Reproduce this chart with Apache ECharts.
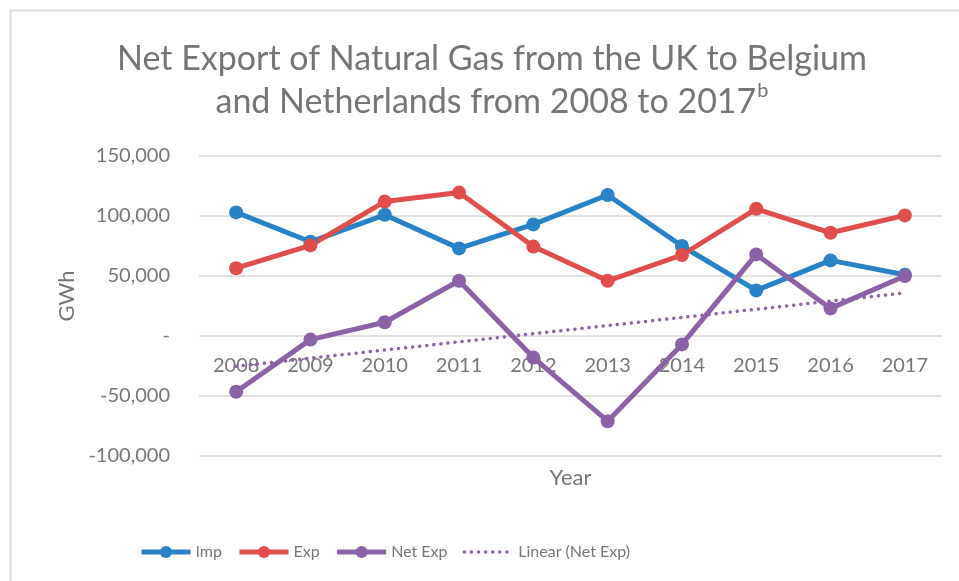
<!DOCTYPE html>
<html>
<head>
<meta charset="utf-8">
<script src="https://cdn.jsdelivr.net/npm/echarts@6/dist/echarts.min.js"></script>
<style>
  html, body { margin: 0; padding: 0; background: #fff; }
  #chart { width: 959px; height: 581px; }
</style>
</head>
<body>
<div id="chart"></div>
<script>
// values (GWh)
const years = ['2008', '2009', '2010', '2011', '2012', '2013', '2014', '2015', '2016', '2017'];
const imp = [103000, 78500, 101000, 73000, 93000, 117500, 75000, 38000, 63000, 51000];
const exp = [56500, 75500, 112000, 119500, 74500, 46000, 67500, 106000, 86000, 100500];
const netExp = [-46500, -3000, 11500, 46000, -18000, -71000, -7000, 68000, 23000, 50000];
const yTicks = [-100000, -50000, 0, 50000, 100000, 150000];

// Excel's "Linear (Net Exp)" trendline: least squares fit on netExp
function linearFit(vals) {
  const n = vals.length;
  const mx = (n - 1) / 2;
  const my = vals.reduce((a, b) => a + b, 0) / n;
  let sxy = 0, sxx = 0;
  vals.forEach((v, i) => { sxy += (i - mx) * (v - my); sxx += (i - mx) * (i - mx); });
  const slope = sxy / sxx;
  return vals.map((v, i) => Math.round(my + slope * (i - mx)));
}
const trend = linearFit(netExp);

const textColor = '#767676';
const font = 'Lato';

let chart = echarts.init(document.getElementById('chart'));
chart.setOption({
  animation: false,
  textStyle: { fontFamily: font },
  title: {
    text: 'Net Export of Natural Gas from the UK to Belgium\nand Netherlands from 2008 to 2017{sup|b}',
    left: 487,
    textAlign: 'center',
    top: 33,
    textStyle: {
      fontFamily: font,
      fontSize: 34,
      fontWeight: 'normal',
      color: '#757575',
      lineHeight: 43,
      rich: {
        sup: { fontFamily: font, fontSize: 20, color: '#757575', verticalAlign: 'top', padding: [0, 0, 18, 1] }
      }
    }
  },
  graphic: [{
    type: 'rect',
    shape: { x: 10.5, y: 10.5, width: 1200, height: 1200 },
    style: { fill: 'none', stroke: '#d9d9d9', lineWidth: 2 },
    silent: true
  }],
  legend: {
    left: 134,
    top: 539,
    itemWidth: 49,
    itemHeight: 15,
    itemGap: 15,
    lineStyle: { width: 5 },
    textStyle: { fontFamily: font, fontSize: 16, color: textColor },
    data: [
      { name: 'Imp', lineStyle: { width: 5 } },
      { name: 'Exp', lineStyle: { width: 5 } },
      { name: 'Net Exp', lineStyle: { width: 5 } },
      { name: 'Linear (Net Exp)', itemStyle: { opacity: 0 }, lineStyle: { width: 3.5 } }
    ]
  },
  grid: { left: 199, right: 17, top: 156, bottom: 125, outerBoundsMode: 'none', containLabel: false },
  xAxis: {
    type: 'category',
    data: years,
    name: 'Year',
    nameLocation: 'middle',
    nameGap: 11,
    nameTextStyle: { fontFamily: font, fontSize: 22, color: textColor },
    axisLine: { show: false },
    axisTick: { show: false },
    // labels sit just under the zero line, as in the original
    axisLabel: { fontFamily: font, fontSize: 20, color: textColor, margin: -100 }
  },
  yAxis: {
    type: 'value',
    min: yTicks[0],
    max: yTicks[yTicks.length - 1],
    interval: 50000,
    name: 'GWh',
    nameLocation: 'middle',
    nameGap: 109,
    nameTextStyle: { fontFamily: font, fontSize: 22, color: textColor, padding: [0, 0, 0, 20] },
    axisLine: { show: false },
    axisTick: { show: false },
    splitLine: { lineStyle: { color: '#d9d9d9', width: 1.5 } },
    axisLabel: {
      fontFamily: font, fontSize: 20, color: textColor, margin: 29,
      formatter: v => v === 0 ? '-' : v.toLocaleString('en-US')
    }
  },
  series: [
    {
      name: 'Imp', type: 'line', data: imp,
      symbol: 'circle', symbolSize: 14,
      lineStyle: { width: 5, color: '#2882c6' },
      itemStyle: { color: '#2882c6' }
    },
    {
      name: 'Exp', type: 'line', data: exp,
      symbol: 'circle', symbolSize: 14,
      lineStyle: { width: 5, color: '#e04e4b' },
      itemStyle: { color: '#e04e4b' }
    },
    {
      name: 'Net Exp', type: 'line', data: netExp,
      symbol: 'circle', symbolSize: 14,
      lineStyle: { width: 5, color: '#8b62a8' },
      itemStyle: { color: '#8b62a8' }
    },
    {
      name: 'Linear (Net Exp)', type: 'line', data: trend,
      symbol: 'none',
      lineStyle: { width: 3.5, color: '#8b62a8', type: [0.1, 7], cap: 'round' },
      itemStyle: { color: '#8b62a8' },
      z: 1
    }
  ]
});
</script>
</body>
</html>
